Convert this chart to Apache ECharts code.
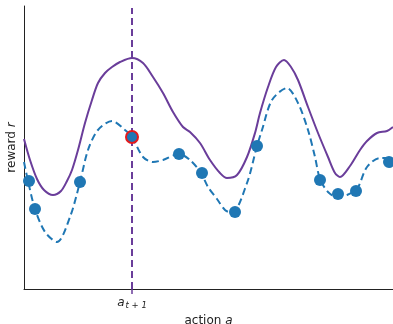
<!DOCTYPE html>
<html><head><meta charset="utf-8">
<script src="https://cdn.jsdelivr.net/npm/echarts@6/dist/echarts.min.js"></script>
<style>html,body{margin:0;padding:0;background:#fff}#c{width:393px;height:324px}</style>
</head><body><div id="c"></div>
<script>
// posterior mean (dashed blue)
const meanX = [0,4,11,21,33,46,56,64,74,88,101,108,119,129,139,155,166,177,184,193,201,208,223,233,238,248,263,274,284,291,296,304,313,323,333,343,356,369];
const meanY = [127,108,80,57,47,72,107,139,159,168,159,152,132,127,129,135,129,116,102,90,79,76,106,143,159,189,201,186,159,132,110,97,92,94,100,122,131,131];
// upper confidence bound (solid purple)
const ucbX = [0,6,13,20,29,37,43,48,54,61,68,74,81,88,96,108,119,129,139,149,159,166,176,186,196,203,213,223,231,236,244,252,260,267,274,284,294,304,311,316,326,336,343,353,363,369];
const ucbY = [150,129,110,99,94,98,108,119,139,166,189,206,216,222,227,231,226,212,196,177,162,157,146,129,116,111,114,132,156,176,202,222,229,222,209,182,156,132,116,112,123,139,148,156,158,162];
// observations
const obsX = [5,11,56,155,178,211,233,296,314,332,365];
const obsY = [108,80,107,135,116,77,143,109,95,98,127];
// next action
const nextX = 108;
const nextY = 152;
const xMin = 0, xMax = 369, yMin = 0, yMax = 283;

const purple = '#6a3d9a';
const blue = '#1f77b4';
const zip = (a, b) => a.map((v, i) => [v, b[i]]);

const chart = echarts.init(document.getElementById('c'));
chart.setOption({
  animation: false,
  grid: {left: 24, right: 0, top: 6, bottom: 35, outerBoundsMode: 'none', containLabel: false},
  xAxis: {
    type: 'value', min: xMin, max: xMax,
    splitLine: {show: false},
    axisLine: {show: true, lineStyle: {color: '#222', width: 1}},
    axisTick: {show: true, customValues: [nextX], length: 5, lineStyle: {color: purple, width: 1.5}},
    axisLabel: {
      show: true, customValues: [nextX], margin: 6,
      formatter: () => '{a|a}{s|t + 1}',
      rich: {
        a: {fontFamily: 'DejaVu Sans', fontStyle: 'italic', fontSize: 12, color: '#222'},
        s: {fontFamily: 'DejaVu Sans', fontStyle: 'italic', fontSize: 8.5, color: '#222', verticalAlign: 'bottom', padding: [6, 0, 0, 1]}
      }
    },
    name: '{n|action }{i|a}', nameLocation: 'middle', nameGap: 20,
    nameTextStyle: {
      rich: {
        n: {fontFamily: 'DejaVu Sans', fontSize: 12, color: '#222'},
        i: {fontFamily: 'DejaVu Sans', fontSize: 12, fontStyle: 'italic', color: '#222'}
      }
    }
  },
  yAxis: {
    type: 'value', min: yMin, max: yMax,
    splitLine: {show: false},
    axisLine: {show: true, lineStyle: {color: '#222', width: 1}},
    axisTick: {show: false},
    axisLabel: {show: false},
    name: '{n|reward }{i|r}', nameLocation: 'middle', nameGap: 6, nameRotate: 90,
    nameTextStyle: {
      rich: {
        n: {fontFamily: 'DejaVu Sans', fontSize: 12, color: '#222'},
        i: {fontFamily: 'DejaVu Sans', fontSize: 12, fontStyle: 'italic', color: '#222'}
      }
    }
  },
  series: [
    {type: 'line', data: [[nextX, yMin], [nextX, yMax - 2]], symbol: 'none',
     lineStyle: {color: purple, width: 2, type: [7, 4]}, z: 1},
    {type: 'line', data: zip(ucbX, ucbY), smooth: 0.3, symbol: 'none',
     lineStyle: {color: purple, width: 2}, z: 2},
    {type: 'line', data: zip(meanX, meanY), smooth: 0.3, symbol: 'none',
     lineStyle: {color: blue, width: 2, type: [7, 4]}, z: 3},
    {type: 'scatter', data: zip(obsX, obsY), symbolSize: 12,
     itemStyle: {color: blue, opacity: 1}, z: 4},
    {type: 'scatter', data: [[nextX, nextY]], symbolSize: 12,
     itemStyle: {color: blue, borderColor: '#e41a1c', borderWidth: 2, opacity: 1}, z: 5}
  ]
});
</script></body></html>
